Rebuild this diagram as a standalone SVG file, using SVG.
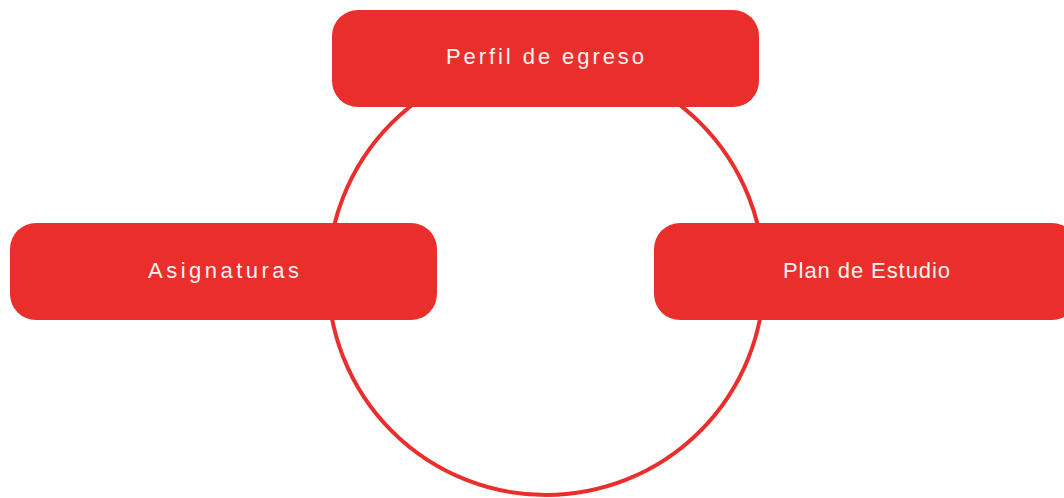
<svg xmlns="http://www.w3.org/2000/svg" width="1064" height="498" viewBox="0 0 1064 498">
<style>
.box{fill:#EA2E2C}
.lbl{font-family:"Liberation Sans",Arial,sans-serif;font-size:22px;fill:#FFF3F0;text-anchor:middle}
.ring{fill:none;stroke:#EA2E2C;stroke-width:4}
</style>
<rect width="1064" height="498" fill="#FFFFFF"/>
<g id="connectors">
<circle class="ring" cx="546" cy="277" r="218"/>
</g>
<g id="node-perfil">
<rect class="box" x="332" y="10" width="427" height="97" rx="26"/>
<text class="lbl" x="545" y="64" textLength="198" lengthAdjust="spacing">Perfil de egreso</text>
</g>
<g id="node-asignaturas">
<rect class="box" x="10" y="223" width="427" height="97" rx="26"/>
<text class="lbl" x="223.5" y="278" textLength="151" lengthAdjust="spacing">Asignaturas</text>
</g>
<g id="node-plan">
<rect class="box" x="654" y="223" width="424" height="97" rx="26"/>
<text class="lbl" x="866.5" y="278" textLength="167" lengthAdjust="spacing">Plan de Estudio</text>
</g>
</svg>
